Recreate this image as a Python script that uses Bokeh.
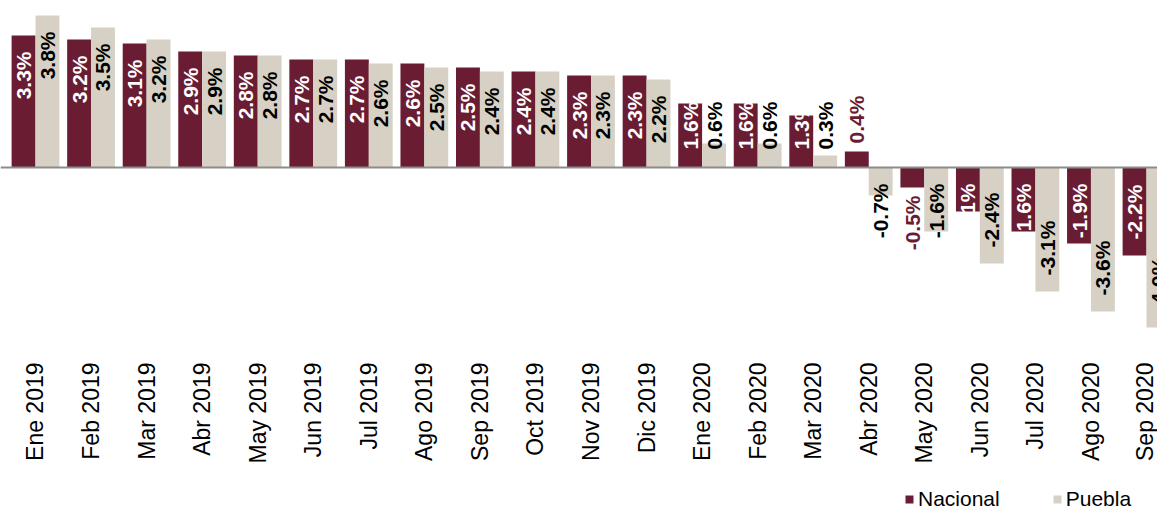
import math
from bokeh.plotting import figure
from bokeh.models import ColumnDataSource, Range1d, FixedTicker, Span, Legend, LegendItem
from bokeh.core.properties import value
from bokeh.embed import file_html
from bokeh.resources import INLINE

# ---- data ----
months = ["Ene 2019", "Feb 2019", "Mar 2019", "Abr 2019", "May 2019", "Jun 2019",
          "Jul 2019", "Ago 2019", "Sep 2019", "Oct 2019", "Nov 2019", "Dic 2019",
          "Ene 2020", "Feb 2020", "Mar 2020", "Abr 2020", "May 2020", "Jun 2020",
          "Jul 2020", "Ago 2020", "Sep 2020"]
nacional = [3.3, 3.2, 3.1, 2.9, 2.8, 2.7, 2.7, 2.6, 2.5, 2.4, 2.3, 2.3,
            1.6, 1.6, 1.3, 0.4, -0.5, -1.1, -1.6, -1.9, -2.2]
puebla = [3.8, 3.5, 3.2, 2.9, 2.8, 2.7, 2.6, 2.5, 2.4, 2.4, 2.3, 2.2,
          0.6, 0.6, 0.3, -0.7, -1.6, -2.4, -3.1, -3.6, -4.0]
series_names = ["Nacional", "Puebla"]

# ---- style ----
MAROON = "#691C32"
BEIGE = "#D6D1C4"
FONT = "Liberation Sans"
LABEL_PX = 21
PX_PER_UNIT = 40.0
BAR_W = 0.43
OFF = BAR_W / 2
AXIS_AT = -4.45

W = {"0": .556, "1": .556, "2": .556, "3": .556, "4": .556, "5": .556, "6": .556,
     "7": .556, "8": .556, "9": .556, ".": .278, "%": .889, "-": .333}


def fmt(v):
    return f"{v:.1f}%"


def text_len(s):
    return sum(W.get(c, .556) for c in s) * LABEL_PX / PX_PER_UNIT


def place(v, small_outside):
    s = fmt(v)
    L = text_len(s)
    if small_outside:
        if v >= 0:
            return v + 0.2, "left"
        return v - 0.2, "right"
    if v >= 0:
        top = v - 0.4
        if top - L >= 0.45:
            return top, "right"
        return 0.45, "left"
    bot = v + 0.4
    if bot + L <= -0.4:
        return bot, "left"
    return -0.4, "right"


idx = list(range(len(months)))

n_lab = {"x": [], "y": [], "t": [], "a": [], "c": []}
for i, v in enumerate(nacional):
    small = abs(v) < 0.8
    y, a = place(v, small)
    n_lab["x"].append(i - OFF)
    n_lab["y"].append(y)
    n_lab["t"].append(fmt(v))
    n_lab["a"].append(a)
    n_lab["c"].append(MAROON if small else "#FFFFFF")

p_lab = {"x": [], "y": [], "t": [], "a": [], "c": []}
for i, v in enumerate(puebla):
    y, a = place(v, False)
    p_lab["x"].append(i + OFF)
    p_lab["y"].append(y)
    p_lab["t"].append(fmt(v))
    p_lab["a"].append(a)
    p_lab["c"].append("#000000")

p = figure(frame_width=1157, frame_height=511,
           x_range=Range1d(-0.630, 20.198), y_range=Range1d(4.175 - 511 / 40.0, 4.175),
           output_backend="svg", toolbar_location=None, y_axis_type=None,
           min_border=0, outline_line_color=None)
p.xgrid.visible = False
p.ygrid.visible = False

src_n = ColumnDataSource(dict(x=[i - OFF for i in idx], top=nacional))
src_p = ColumnDataSource(dict(x=[i + OFF for i in idx], top=puebla))
rn = p.vbar(x="x", top="top", bottom=0, width=BAR_W, source=src_n,
            fill_color=MAROON, line_color=None)
rp = p.vbar(x="x", top="top", bottom=0, width=BAR_W, source=src_p,
            fill_color=BEIGE, line_color=None)

p.add_layout(Span(location=0, dimension="width", line_color="#8C8C8C", line_width=2))

for lab in (n_lab, p_lab):
    src = ColumnDataSource(lab)
    p.text(x="x", y="y", text="t", source=src, angle=math.pi / 2,
           text_align="a", text_baseline="middle", text_color="c",
           text_font=value(FONT), text_font_style="bold",
           text_font_size=f"{LABEL_PX}px")

ax = p.xaxis[0]
ax.fixed_location = AXIS_AT
ax.ticker = FixedTicker(ticks=idx)
ax.major_label_overrides = {i: m for i, m in enumerate(months)}
ax.major_label_orientation = math.pi / 2
ax.axis_line_color = None
ax.major_tick_line_color = None
ax.minor_tick_line_color = None
ax.major_tick_out = 0
ax.major_tick_in = 0
ax.major_label_standoff = 17
ax.major_label_text_font = FONT
ax.major_label_text_font_size = "23px"
ax.major_label_text_color = "#000000"

legend = Legend(items=[LegendItem(label=series_names[0], renderers=[rn]),
                       LegendItem(label=series_names[1], renderers=[rp])],
                orientation="horizontal", location=(904, 0),
                glyph_width=10, glyph_height=10, label_standoff=4, spacing=52,
                padding=0, margin=0, border_line_color=None,
                background_fill_alpha=0,
                label_text_font=FONT, label_text_font_size="21px",
                label_text_color="#000000")
p.add_layout(legend)

open("out.html", "w").write(file_html(p, INLINE))
